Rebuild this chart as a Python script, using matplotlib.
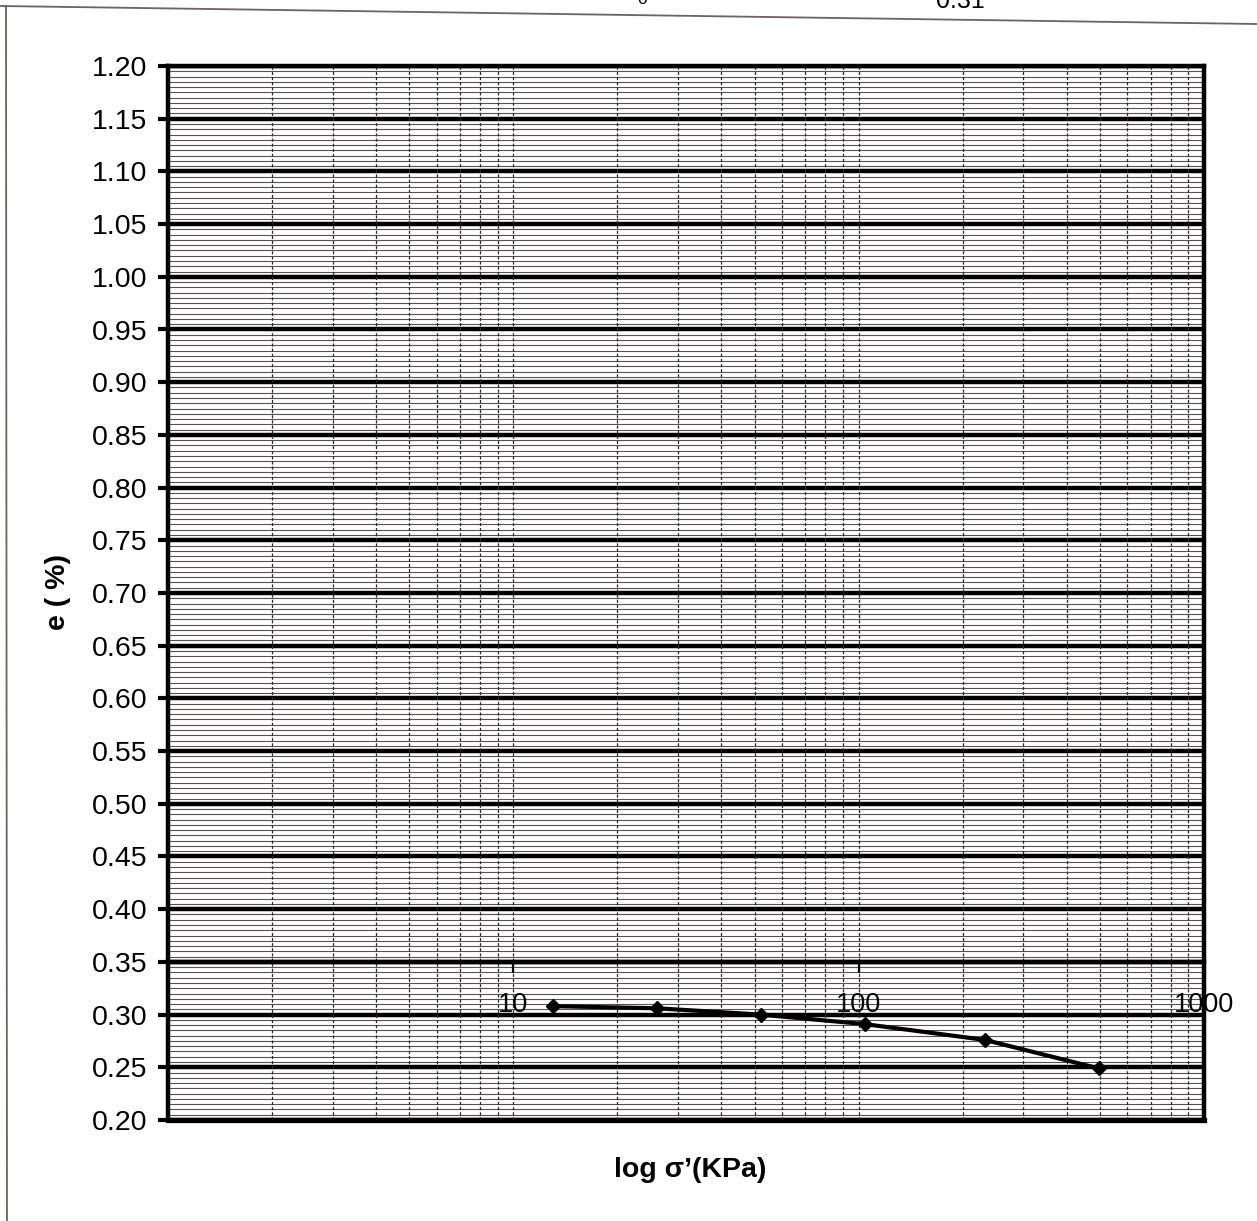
import numpy as np
import matplotlib
matplotlib.use("Agg")
import matplotlib.pyplot as plt
from matplotlib.ticker import MultipleLocator, FixedLocator, LogLocator, NullFormatter, FormatStrFormatter
from matplotlib.lines import Line2D

# Consolidation test: void ratio vs effective stress
stress_kpa = [13, 26, 52, 104, 232, 495]
void_ratio = [0.308, 0.306, 0.300, 0.291, 0.276, 0.249]

x_tick_values = [10, 100, 1000]
x_tick_labels = ["10", "100", "1000"]
y_min, y_max = 0.20, 1.20
y_major, y_minor = 0.05, 0.005
x_min, x_max = 1, 1000
axis_cross_e = 0.35

plt.rcParams["font.family"] = ["Liberation Sans", "DejaVu Sans"]

W, H = 1257, 1221
fig = plt.figure(figsize=(W / 100, H / 100), dpi=100)
L, R, T, B = 168, 1204, 66, 1120
ax = fig.add_axes([L / W, 1 - B / H, (R - L) / W, (B - T) / H])

ax.set_xscale("log")
ax.set_xlim(x_min, x_max)
ax.set_ylim(y_min, y_max)

# y axis: labelled every 0.05, fine rules every 0.005
ax.yaxis.set_major_locator(MultipleLocator(y_major))
ax.yaxis.set_minor_locator(MultipleLocator(y_minor))
ax.yaxis.set_major_formatter(FormatStrFormatter("%.2f"))
ax.tick_params(axis="y", which="major", direction="out", length=7, width=3,
               labelsize=20.5, pad=8, color="black")
ax.tick_params(axis="y", which="minor", length=0)

# x axis: log decades, crossing the e axis at 0.35
ax.xaxis.set_major_locator(FixedLocator(x_tick_values))
ax.set_xticklabels(x_tick_labels)
ax.xaxis.set_minor_locator(LogLocator(base=10, subs=np.arange(2, 10)))
ax.xaxis.set_minor_formatter(NullFormatter())
ax.spines["bottom"].set_position(("data", axis_cross_e))
ax.tick_params(axis="x", which="major", direction="out", length=8, width=1.6,
               labelsize=19.5, pad=14, color="black", labelcolor="black")
ax.tick_params(axis="x", which="minor", length=0)

ax.grid(which="minor", axis="y", color="#5a5050", lw=0.8)
ax.grid(which="major", axis="y", color="black", lw=3.2)
ax.grid(which="both", axis="x", color="#2a2a2a", lw=0.9, ls=(0, (2.5, 1.6)))
# horizontal rules underneath, decade labels on top of them
ax.yaxis.set_zorder(0.5)
ax.xaxis.set_zorder(1.5)

for side in ["left", "right", "top", "bottom"]:
    ax.spines[side].set_linewidth(3.2)
    ax.spines[side].set_color("black")
    ax.spines[side].set_zorder(2.5)

# lower frame edge at e = 0.20
ax.axhline(y_min, color="black", lw=3.8, clip_on=False, zorder=3)

ax.plot(stress_kpa, void_ratio, color="black", lw=3.0, marker="D", ms=7,
        zorder=5, clip_on=False)

fig.text(58 / W, 1 - 592 / H, "e ( %)", rotation=90, ha="center", va="center",
         fontsize=20.5, fontweight="bold")
fig.text(690 / W, 1 - 1170 / H, "log \u03c3\u2019(KPa)", ha="center", va="center",
         fontsize=20.5, fontweight="bold")

# page edges and header values cut at the top of the sheet
fig.add_artist(Line2D([0, 1], [1 - 6 / H, 1 - 24 / H], transform=fig.transFigure,
                      color="#6e6262", lw=1.3))
fig.add_artist(Line2D([6 / W, 7 / W], [1 - 6 / H, 0], transform=fig.transFigure,
                      color="#6e6262", lw=1.3))
fig.text(960 / W, 1 - 8 / H, "0.31", ha="center", va="baseline", fontsize=18)
fig.text(636 / W, 1 - 1 / H, r"$\mathregular{e_0}$", ha="center", va="baseline",
         fontsize=18)

fig.savefig("out.png", dpi=100, facecolor="white")
